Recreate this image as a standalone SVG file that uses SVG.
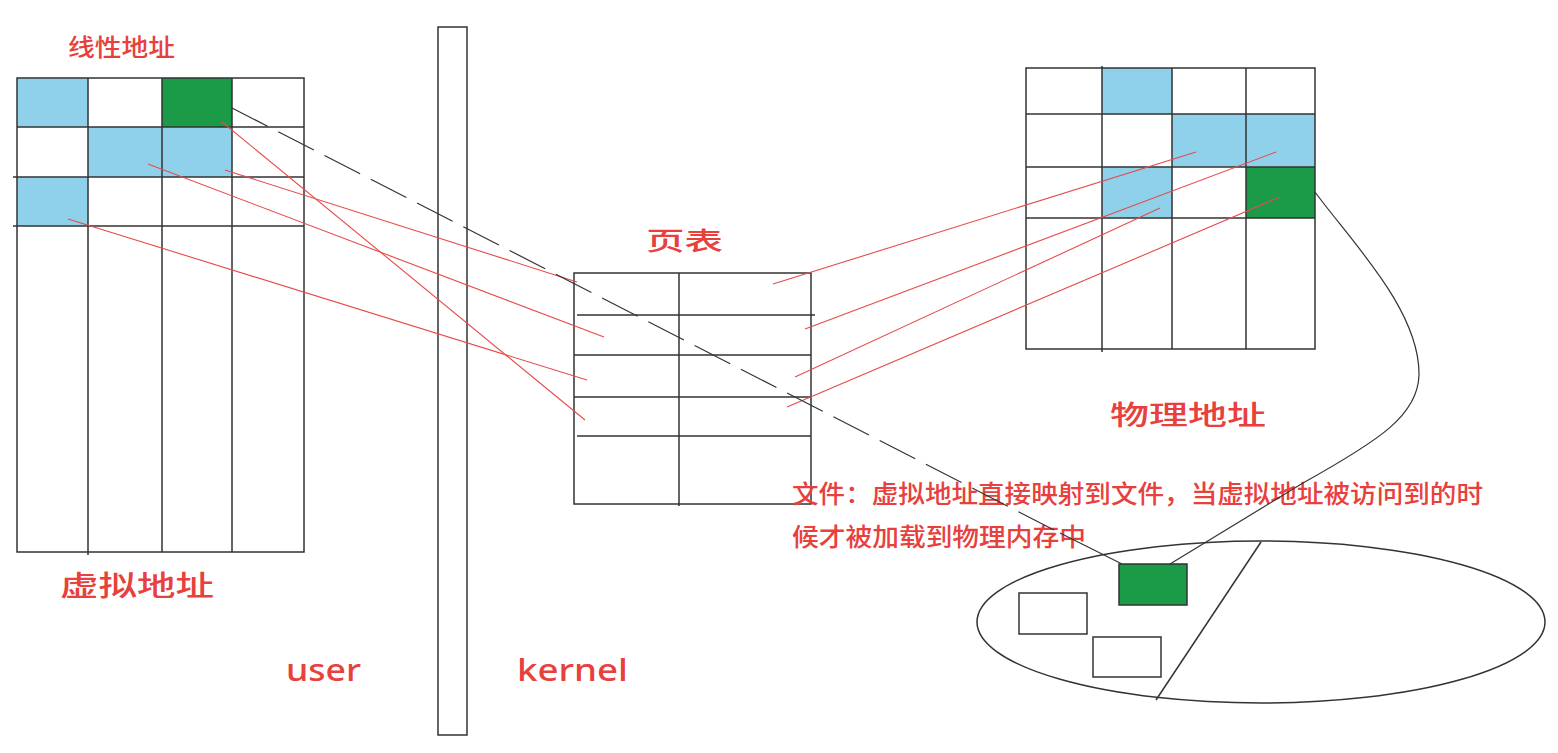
<svg xmlns="http://www.w3.org/2000/svg" width="1558" height="753" viewBox="0 0 1558 753">
<style>
.g{fill:none;stroke:#333;stroke-width:1.5}
.cell{stroke:none}
.blue{fill:#8fd1ea}
.green{fill:#1b9b48}
.lbl{fill:#e8403c;font-family:"Noto Sans CJK SC","Noto Sans",sans-serif;font-weight:500}
.lat{fill:#e8403c;font-family:"Noto Sans","Open Sans",sans-serif;font-weight:500}
.red{stroke:#e84a4a;stroke-width:1.1;fill:none}
.blk{stroke:#333;stroke-width:1.2;fill:none}
</style>
<rect width="1558" height="753" fill="#fff"/>

<g id="virtual-address">
  <rect class="cell blue" x="17" y="78" width="71" height="49"/>
  <rect class="cell green" x="162" y="78" width="70" height="49"/>
  <rect class="cell blue" x="88" y="127" width="144" height="50"/>
  <rect class="cell blue" x="17" y="177" width="71" height="49"/>
  <rect class="g" x="17" y="78" width="287" height="474"/>
  <path class="g" d="M88,78V555M162,78V552M232,78V552M17,127H304M13,177H304M13,226H304"/>
  <text class="lbl" x="68" y="56" font-size="24" textLength="107" lengthAdjust="spacingAndGlyphs">线性地址</text>
  <text class="lbl" x="60" y="596" font-size="28" textLength="154" lengthAdjust="spacingAndGlyphs">虚拟地址</text>
</g>

<g id="barrier">
  <rect class="g" x="438" y="27" width="29" height="708" fill="#fff"/>
  <text class="lat" x="286" y="681" font-size="30" textLength="75" lengthAdjust="spacingAndGlyphs">user</text>
  <text class="lat" x="517" y="681" font-size="30" textLength="111" lengthAdjust="spacingAndGlyphs">kernel</text>
</g>

<g id="page-table">
  <rect class="g" x="574" y="273" width="237" height="231"/>
  <path class="g" d="M679,273V506M577,315H815M574,355H811M574,397H811M577,436H811"/>
  <text class="lbl" x="646" y="250" font-size="25" textLength="77" lengthAdjust="spacingAndGlyphs">页表</text>
</g>

<g id="physical-address">
  <rect class="cell blue" x="1102" y="68" width="70" height="46"/>
  <rect class="cell blue" x="1172" y="114" width="143" height="53"/>
  <rect class="cell blue" x="1102" y="167" width="70" height="51"/>
  <rect class="cell green" x="1246" y="167" width="69" height="51"/>
  <rect class="g" x="1026" y="68" width="289" height="281"/>
  <path class="g" d="M1102,66V352M1172,68V349M1246,68V349M1026,114H1315M1026,167H1315M1026,218H1315"/>
  <text class="lbl" x="1110" y="425" font-size="27" textLength="156" lengthAdjust="spacingAndGlyphs">物理地址</text>
</g>

<g id="memory">
  <ellipse class="g" cx="1261" cy="622" rx="284" ry="81"/>
  <path class="g" d="M1261,542L1156,700"/>
  <rect class="g green" x="1119" y="564" width="68" height="41"/>
  <rect class="g" x="1019" y="593" width="68" height="41"/>
  <rect class="g" x="1093" y="637" width="68" height="40"/>
</g>

<g id="note">
  <text class="lbl" x="792" y="503" font-size="25" textLength="691" lengthAdjust="spacingAndGlyphs">文件：虚拟地址直接映射到文件，当虚拟地址被访问到的时</text>
  <text class="lbl" x="792" y="546" font-size="25" textLength="294" lengthAdjust="spacingAndGlyphs">候才被加载到物理内存中</text>
</g>

<g id="connectors">
  <path class="red" d="M222,122L585,420"/>
  <path class="red" d="M148,164L604,337"/>
  <path class="red" d="M225,170L577,282"/>
  <path class="red" d="M68,219L587,380"/>
  <path class="red" d="M773,284L1196,152"/>
  <path class="red" d="M805,329L1276,152"/>
  <path class="red" d="M795,377L1160,208"/>
  <path class="red" d="M787,407L1280,197"/>
  <path class="blk" stroke-dasharray="40 12" d="M232,108L1060,533"/>
  <path class="blk" d="M1060,533L1122,564"/>
  <path class="blk" d="M1315,192C1350,240 1420,310 1419,375C1418,415 1380,440 1303,483L1170,564"/>
</g>
</svg>
